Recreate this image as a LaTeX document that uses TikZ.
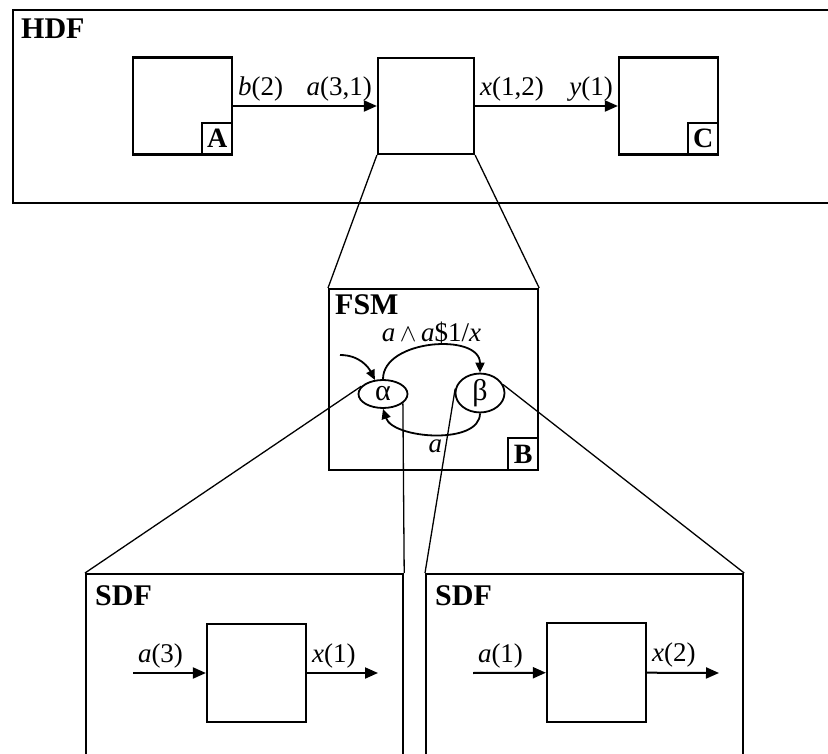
\documentclass[tikz,border=0pt]{standalone}
\usepackage{fontspec}
\setmainfont{Liberation Serif}
\usetikzlibrary{shapes.geometric, arrows.meta, positioning}
\tikzset{
    region/.style = {rectangle, draw=black, line width=2.2pt, anchor=north west, inner sep=0pt},
    regionname/.style = {anchor=base west, inner sep=0pt, font=\fontsize{30}{32}\selectfont\bfseries},
    actor/.style = {rectangle, draw=black, line width=2.2pt, minimum width=99pt, minimum height=97pt, inner sep=0pt},
    tag/.style = {rectangle, draw=black, line width=1.8pt, anchor=south east, minimum width=30pt, minimum height=32pt, inner sep=0pt, font=\fontsize{28}{30}\selectfont\bfseries},
    state/.style = {ellipse, draw=black, line width=1.8pt, minimum width=49pt, minimum height=28pt, inner sep=0pt, font=\fontsize{30}{30}\selectfont},
    rate/.style = {inner sep=4pt, font=\fontsize{27}{29}\selectfont},
    flow/.style = {line width=2pt, -{Triangle[length=13pt, width=11pt]}},
    trans/.style = {line width=1.8pt, -{Triangle[length=10pt, width=9pt]}},
    zoomline/.style = {line width=1.3pt}
}
\begin{document}
\begin{tikzpicture}[x=1pt, y=-1pt]
\useasboundingbox (0,0) rectangle (828,754);
\clip (0,0) rectangle (828,754);

% HDF level
\node (hdf) [region, minimum width=900pt, minimum height=193pt] at (12,9) {};
\node (hdfname) [regionname] at (21,39) {HDF};
\node (A) [actor] at (182.5,106) {};
\node (tagA) [tag] at (A.south east) {A};
\node (B) [actor, minimum width=96pt, minimum height=96pt] at (426,106) {};
\node (C) [actor] at (668.5,106) {};
\node (tagC) [tag] at (C.south east) {C};

\draw [flow] (A) -- node[rate, pos=0, above right] {\textit{b}(2)} node[rate, pos=1, above left] {\textit{a}(3,1)} (B);
\draw [flow] (B) -- node[rate, pos=0, above right] {\textit{x}(1,2)} node[rate, pos=1, above left] {\textit{y}(1)} (C);

% FSM inside B
\node (fsm) [region, minimum width=209pt, minimum height=181pt] at (328,288) {};
\node (fsmname) [regionname] at (335,315) {FSM};
\node (alpha) [state] at (383,394) {α};
\node (beta) [state] at (480,393) {β};
\node (tagB) [tag] at (fsm.south east) {B};
\coordinate (init) at (340,355);

\draw [trans] (init) .. controls +(20,0) and +(-6,-12) .. (alpha.120);
\draw [trans] (alpha.north) .. controls +(0,-40) and +(0,-40) .. node[rate, midway, above, inner sep=1pt] {\textit{a}\,$\wedge$\,\textit{a}\$1/\textit{x}} (beta.north);
\draw [trans] (beta.south) .. controls +(0,32) and +(10,30) .. node[rate, midway, below, inner sep=5pt] {\textit{a}} (alpha.south);

\draw [zoomline] (B.south west) -- (fsm.north west);
\draw [zoomline] (B.south east) -- (fsm.north east);

% SDF refinements of the states
\node (sdfL) [region, minimum width=317pt, minimum height=250pt] at (85,573) {};
\node (sdfLname) [regionname] at (95,605) {SDF};
\node (actL) [actor, minimum height=98pt] at (256.5,673) {};
\coordinate (inL) at (133,673);
\coordinate (outL) at (378,673);
\draw [flow] (inL) -- node[rate, pos=0, above right] {\textit{a}(3)} (actL);
\draw [flow] (actL) -- node[rate, pos=0, above right] {\textit{x}(1)} (outL);

\node (sdfR) [region, minimum width=317pt, minimum height=250pt] at (425,573) {};
\node (sdfRname) [regionname] at (435,605) {SDF};
\node (actR) [actor, minimum height=99pt] at (596.5,672.5) {};
\coordinate (inR) at (473,673);
\coordinate (outR) at (719,673);
\draw [flow] (inR) -- node[rate, pos=0, above right] {\textit{a}(1)} (actR);
\draw [flow] (actR) -- node[rate, pos=0, above right] {\textit{x}(2)} (outR);

\draw [zoomline] (alpha.160) -- (sdfL.north west);
\draw [zoomline] (alpha.-25) -- (sdfL.north east);
\draw [zoomline] (beta.170) -- (sdfR.north west);
\draw [zoomline] (beta.20) -- (sdfR.north east);
\end{tikzpicture}
\end{document}
